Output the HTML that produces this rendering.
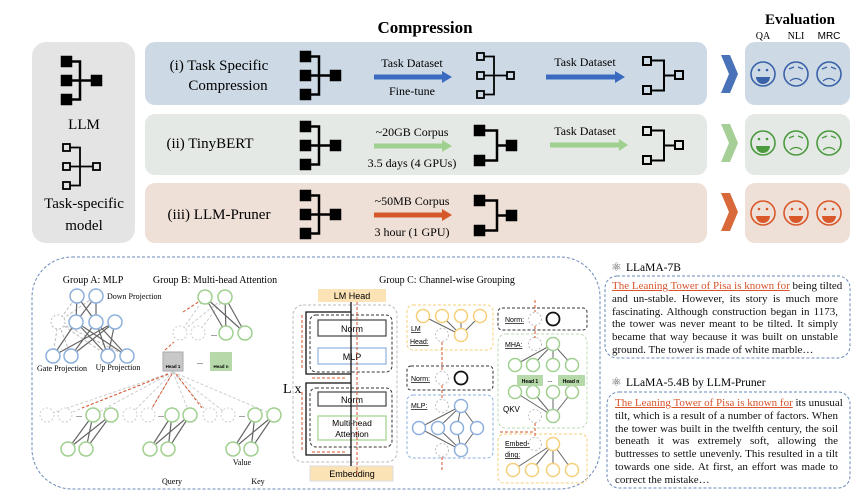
<!DOCTYPE html>
<html><head><meta charset="utf-8"><style>
html,body{margin:0;padding:0;background:#fff;}
#w{position:relative;width:867px;height:499px;overflow:hidden;font-family:"Liberation Serif",serif;}
svg{position:absolute;left:0;top:0;}
.p{position:absolute;font-size:11px;line-height:12.8px;color:#111;}
.p div{text-align:justify;text-align-last:justify;white-space:nowrap;}
.p div.l{text-align-last:left;}
.o{color:#d9532b;text-decoration:underline;}
</style></head><body><div id="w">
<svg width="867" height="499" viewBox="0 0 867 499" font-family="Liberation Serif, serif">
<defs>
<g id="f3" stroke="#000" stroke-width="2.5" fill="none"><rect x="0" y="0" width="9" height="9" fill="#000"/><rect x="0" y="19" width="9" height="9" fill="#000"/><rect x="0" y="38" width="9" height="9" fill="#000"/><path d="M9 4.5H18V42.5H9M9 23.5H30"/><rect x="30" y="19" width="9" height="9" fill="#000"/></g>
<g id="h3" stroke="#000" stroke-width="1.8" fill="none"><rect x="1" y="1" width="7" height="7"/><rect x="1" y="20" width="7" height="7"/><rect x="1" y="39" width="7" height="7"/><path d="M8 4.5H18V42.5H8M8 23.5H31"/><rect x="31" y="20" width="7" height="7"/></g>
<g id="f2" stroke="#000" stroke-width="2.5" fill="none"><rect x="0" y="0" width="9" height="9" fill="#000"/><rect x="0" y="30" width="9" height="9" fill="#000"/><path d="M9 4.5H22V34.5H9M22 19.5H32"/><rect x="32" y="15" width="9" height="9" fill="#000"/></g>
<g id="h2" stroke="#000" stroke-width="2" fill="none"><rect x="1" y="1" width="8" height="8"/><rect x="1" y="30" width="8" height="8"/><path d="M9 4.5H22V34.5H9M22 19.5H33"/><rect x="33" y="15" width="8" height="8"/></g>
<g id="hap" fill="none" stroke-width="1.6"><circle r="12"/></g>
<g id="sad" fill="none" stroke-width="1.6"><circle r="12"/><path d="M-7 -5L-2 -7M7 -5L2 -7M-6 7Q0 2 6 7" stroke-width="1.3"/></g>
</defs>

<text x="425" y="33" font-size="17" font-weight="bold" text-anchor="middle">Compression</text>
<text x="800" y="24" font-size="15" font-weight="bold" text-anchor="middle">Evaluation</text>
<text x="763" y="39" font-size="10" text-anchor="middle">QA</text>
<text x="796" y="39" font-size="10" text-anchor="middle">NLI</text>
<text x="829" y="39" font-size="10" text-anchor="middle" font-family="Liberation Sans, sans-serif">MRC</text>

<rect x="32" y="42" width="103" height="201" rx="14" fill="#e4e4e4"/>
<use href="#f3" x="62" y="57"/>
<text x="84" y="129" font-size="15" text-anchor="middle">LLM</text>
<use href="#h3" x="62" y="143"/>
<text x="84" y="208" font-size="15" text-anchor="middle">Task-specific</text>
<text x="84" y="230" font-size="15" text-anchor="middle">model</text>

<rect x="145" y="42" width="562" height="63" rx="10" fill="#cddae6"/>
<rect x="145" y="114" width="562" height="61" rx="10" fill="#e5e9e5"/>
<rect x="145" y="183" width="562" height="60" rx="10" fill="#efe0d7"/>
<rect x="745" y="42" width="105" height="63" rx="10" fill="#cddae6"/>
<rect x="745" y="114" width="105" height="61" rx="10" fill="#e5e9e5"/>
<rect x="745" y="183" width="105" height="60" rx="10" fill="#efe0d7"/>
<path d="M721 55L730 55L738 74L730 93L721 93L729 74Z" fill="#4a72b8"/>
<path d="M721 124L730 124L738 143L730 162L721 162L729 143Z" fill="#a6cf98"/>
<path d="M721 193L730 193L738 212L730 231L721 231L729 212Z" fill="#d9693a"/>

<text x="219" y="70" font-size="15" text-anchor="middle">(i) Task Specific</text>
<text x="228" y="90" font-size="15" text-anchor="middle">Compression</text>
<use href="#f3" x="301" y="52"/>
<text x="412" y="67" font-size="12" text-anchor="middle">Task Dataset</text>
<path d="M374 77H443" stroke="#3b6bc0" stroke-width="5"/><path d="M442 71L452 77L442 83Z" fill="#3b6bc0"/>
<text x="412" y="95" font-size="12" text-anchor="middle">Fine-tune</text>
<use href="#h3" x="476" y="52"/>
<text x="585" y="66" font-size="12" text-anchor="middle">Task Dataset</text>
<path d="M546 77H616" stroke="#3b6bc0" stroke-width="5"/><path d="M615 71L625 77L615 83Z" fill="#3b6bc0"/>
<use href="#h2" x="642" y="56"/>

<text x="210" y="148" font-size="15" text-anchor="middle">(ii) TinyBERT</text>
<use href="#f3" x="301" y="122"/>
<text x="412" y="136" font-size="12" text-anchor="middle">~20GB Corpus</text>
<path d="M374 146H443" stroke="#9fd08f" stroke-width="5"/><path d="M442 140L452 146L442 152Z" fill="#9fd08f"/>
<text x="412" y="167" font-size="12" text-anchor="middle">3.5 days (4 GPUs)</text>
<use href="#f2" x="475" y="126"/>
<text x="585" y="135" font-size="12" text-anchor="middle">Task Dataset</text>
<path d="M550 145H620" stroke="#9fd08f" stroke-width="5"/><path d="M619 139L628 145L619 151Z" fill="#9fd08f"/>
<use href="#h2" x="642" y="126"/>

<text x="219" y="219" font-size="15" text-anchor="middle">(iii) LLM-Pruner</text>
<use href="#f3" x="301" y="191"/>
<text x="412" y="205" font-size="12" text-anchor="middle">~50MB Corpus</text>
<path d="M374 215H443" stroke="#d4582a" stroke-width="5"/><path d="M442 209L452 215L442 221Z" fill="#d4582a"/>
<text x="412" y="236" font-size="12" text-anchor="middle">3 hour (1 GPU)</text>
<use href="#f2" x="475" y="196"/>

<g stroke="#3a62a8"><use href="#hap" x="763" y="74"/><use href="#sad" x="796" y="74"/><use href="#sad" x="829" y="74"/></g>
<g fill="#3a62a8"><circle cx="759" cy="70" r="1.3"/><circle cx="767" cy="70" r="1.3"/><path d="M756 77A7 7 0 0 0 770 77Z"/></g>
<g stroke="#4a9a3e"><use href="#hap" x="763" y="143"/><use href="#sad" x="796" y="143"/><use href="#sad" x="829" y="143"/></g>
<g fill="#4a9a3e"><circle cx="759" cy="139" r="1.3"/><circle cx="767" cy="139" r="1.3"/><path d="M756 146A7 7 0 0 0 770 146Z"/></g>
<g stroke="#d9582a"><use href="#hap" x="763" y="213"/><use href="#hap" x="796" y="213"/><use href="#hap" x="829" y="213"/></g>
<g fill="#d9582a"><circle cx="759" cy="209" r="1.3"/><circle cx="767" cy="209" r="1.3"/><path d="M756 216A7 7 0 0 0 770 216Z"/><circle cx="792" cy="209" r="1.3"/><circle cx="800" cy="209" r="1.3"/><path d="M789 216A7 7 0 0 0 803 216Z"/><circle cx="825" cy="209" r="1.3"/><circle cx="833" cy="209" r="1.3"/><path d="M822 216A7 7 0 0 0 836 216Z"/></g>

<rect x="32" y="257" width="568" height="232" rx="40" fill="none" stroke="#6a8ab8" stroke-width="1" stroke-dasharray="3,2"/>

<!-- Group A -->
<text x="93" y="283" font-size="10" text-anchor="middle">Group A:  MLP</text>
<text x="107" y="299" font-size="8">Down Projection</text>
<g stroke="#bbb" stroke-width="1" stroke-dasharray="3,2"><path d="M58 322L77 296M58 322L96 296M53 356L58 322M71 356L58 322M108 356L58 322M127 356L58 322"/></g>
<g stroke="#666" stroke-width="1.2"><path d="M77 296L76 322M77 296L96 322M96 296L76 322M96 296L96 322M76 322L53 356M76 322L108 356M96 322L71 356M96 322L127 356M115 322L53 356M115 322L108 356M76 322L127 356M96 322L108 356M115 322L71 356"/></g>
<g fill="#fff" stroke="#8eb0dc" stroke-width="1.5"><circle cx="77" cy="296" r="7"/><circle cx="96" cy="296" r="7"/><circle cx="76" cy="322" r="7"/><circle cx="96" cy="322" r="7"/><circle cx="115" cy="322" r="7"/><circle cx="53" cy="356" r="7"/><circle cx="71" cy="356" r="7"/><circle cx="108" cy="356" r="7"/><circle cx="127" cy="356" r="7"/></g>
<circle cx="58" cy="322" r="7" fill="#fff" stroke="#bbb" stroke-dasharray="2,2"/>
<text x="62" y="371" font-size="8" text-anchor="middle">Gate Projection</text>
<text x="118" y="370" font-size="8" text-anchor="middle">Up Projection</text>

<!-- Group B -->
<text x="215" y="283" font-size="10" text-anchor="middle">Group B: Multi-head Attention</text>
<g stroke="#ccc" stroke-dasharray="3,2"><path d="M180 333L205 297M198 333L225 297M180 333L225 297"/></g>
<g stroke="#666" stroke-width="1.2"><path d="M205 297L226 333M205 297L245 333M225 297L226 333M225 297L245 333"/></g>
<g fill="#fff" stroke="#9fd08f" stroke-width="1.5"><circle cx="205" cy="297" r="7"/><circle cx="225" cy="297" r="7"/><circle cx="226" cy="333" r="7"/><circle cx="245" cy="333" r="7"/></g>
<g fill="#fff" stroke="#ccc" stroke-dasharray="2,2"><circle cx="180" cy="333" r="7"/><circle cx="198" cy="333" r="7"/></g>
<text x="214" y="336" font-size="8" text-anchor="middle">...</text>
<g stroke="#d9532b" stroke-dasharray="3,2" fill="none"><path d="M183 312L200 301M165 350L174 342"/></g>
<rect x="163" y="352" width="20" height="19" fill="#c8c8c8" stroke="#aaa"/>
<text x="173" y="368" font-size="4.5" text-anchor="middle" font-family="Liberation Sans,sans-serif" font-weight="bold">Head 1</text>
<text x="200" y="364" font-size="8" text-anchor="middle">...</text>
<rect x="210" y="352" width="22" height="19" fill="#b5d9a8"/>
<text x="221" y="368" font-size="4.5" text-anchor="middle" font-family="Liberation Sans,sans-serif" font-weight="bold">Head n</text>
<g stroke="#ccc" stroke-dasharray="3,2"><path d="M173 372L47 415M173 372L65 415M173 372L130 415M173 372L148 415M173 372L210 415M173 372L228 415M173 372L93 415M173 372L190 415M173 372L274 415"/></g>
<g stroke="#d9532b" stroke-dasharray="3,2" fill="none"><path d="M168 374L82 408M172 374L152 408M176 374L202 408"/></g>
<g stroke="#666" stroke-width="1.2"><path d="M93 415L68 449M93 415L86 449M111 415L68 449M111 415L86 449M172 415L150 449M172 415L168 449M190 415L150 449M190 415L168 449M255 415L233 449M255 415L251 449M274 415L233 449M274 415L251 449"/></g>
<g fill="#fff" stroke="#ccc" stroke-dasharray="2,2"><circle cx="47" cy="415" r="7"/><circle cx="65" cy="415" r="7"/><circle cx="130" cy="415" r="7"/><circle cx="148" cy="415" r="7"/><circle cx="210" cy="415" r="7"/><circle cx="228" cy="415" r="7"/></g>
<text x="79" y="417" font-size="8" text-anchor="middle">...</text><text x="161" y="417" font-size="8" text-anchor="middle">...</text><text x="242" y="417" font-size="8" text-anchor="middle">...</text>
<g fill="#fff" stroke="#9fd08f" stroke-width="1.5"><circle cx="93" cy="415" r="7"/><circle cx="111" cy="415" r="7"/><circle cx="172" cy="415" r="7"/><circle cx="190" cy="415" r="7"/><circle cx="255" cy="415" r="7"/><circle cx="274" cy="415" r="7"/><circle cx="68" cy="449" r="7"/><circle cx="86" cy="449" r="7"/><circle cx="150" cy="449" r="7"/><circle cx="168" cy="449" r="7"/><circle cx="233" cy="449" r="7"/><circle cx="251" cy="449" r="7"/></g>
<text x="242" y="465" font-size="8" text-anchor="middle">Value</text>
<text x="172" y="484" font-size="8" text-anchor="middle">Query</text>
<text x="258" y="484" font-size="8" text-anchor="middle">Key</text>

<!-- Group C transformer -->
<text x="447" y="283" font-size="10" text-anchor="middle">Group C: Channel-wise Grouping</text>
<rect x="293" y="305" width="104" height="157" rx="10" fill="none" stroke="#bbb" stroke-dasharray="3,2"/>
<rect x="318" y="289" width="68" height="13" fill="#fce3b6"/>
<text x="352" y="299" font-size="9" text-anchor="middle" font-family="Liberation Sans,sans-serif">LM Head</text>
<rect x="310" y="315" width="82" height="57" rx="6" fill="none" stroke="#333" stroke-dasharray="3,2"/>
<rect x="318" y="320" width="68" height="16" fill="#fff" stroke="#444" stroke-width="1.2"/>
<text x="352" y="332" font-size="9" text-anchor="middle" font-family="Liberation Sans,sans-serif">Norm</text>
<rect x="318" y="348" width="68" height="16" fill="#fff" stroke="#8eb0dc" stroke-width="1.2"/>
<text x="352" y="360" font-size="9" text-anchor="middle" font-family="Liberation Sans,sans-serif">MLP</text>
<rect x="310" y="388" width="82" height="59" rx="6" fill="none" stroke="#333" stroke-dasharray="3,2"/>
<rect x="318" y="392" width="68" height="14" fill="#fff" stroke="#444" stroke-width="1.2"/>
<text x="352" y="403" font-size="9" text-anchor="middle" font-family="Liberation Sans,sans-serif">Norm</text>
<rect x="318" y="416" width="68" height="24" fill="#fff" stroke="#9fd08f" stroke-width="1.2"/>
<text x="352" y="426" font-size="8.5" text-anchor="middle" font-family="Liberation Sans,sans-serif">Multi-head</text>
<text x="352" y="437" font-size="8.5" text-anchor="middle" font-family="Liberation Sans,sans-serif">Attention</text>
<rect x="310" y="466" width="83" height="15" fill="#fce3b6" stroke="#ddd"/>
<text x="352" y="477" font-size="9" text-anchor="middle" font-family="Liberation Sans,sans-serif">Embedding</text>
<g stroke="#111" stroke-width="1.3" fill="none"><path d="M351 466V302M351 455H306V383H351M351 374H306V312H351"/></g>
<text x="283" y="393" font-size="14">L x</text>
<g stroke="#d9532b" stroke-dasharray="3,2" fill="none"><path d="M357 302V474M302 315V368M302 392V450M312 378H345M312 452H345"/></g>

<!-- Group C middle -->
<rect x="407" y="305" width="86" height="45" rx="6" fill="none" stroke="#f5cf7a" stroke-dasharray="3,2"/>
<rect x="407" y="366" width="86" height="24" rx="4" fill="none" stroke="#333" stroke-dasharray="3,2"/>
<rect x="407" y="395" width="86" height="63" rx="6" fill="none" stroke="#8eb0dc" stroke-dasharray="3,2"/>
<g stroke="#666" stroke-width="1"><path d="M423 316L461 335M442 316L461 335M461 316L461 335M480 316L461 335M461 406L419 428M461 406L438 428M461 406L457 428M461 406L477 428M419 428L461 450M438 428L461 450M457 428L461 450M477 428L461 450"/></g>
<g fill="#fff" stroke="#f5cf7a" stroke-width="1.5"><circle cx="423" cy="316" r="6.5"/><circle cx="442" cy="316" r="6.5"/><circle cx="461" cy="316" r="6.5"/><circle cx="480" cy="316" r="6.5"/><circle cx="461" cy="335" r="6.5"/></g>
<g fill="#fff" stroke="#8eb0dc" stroke-width="1.5"><circle cx="461" cy="406" r="6.5"/><circle cx="419" cy="428" r="6.5"/><circle cx="438" cy="428" r="6.5"/><circle cx="457" cy="428" r="6.5"/><circle cx="477" cy="428" r="6.5"/><circle cx="461" cy="450" r="6.5"/></g>
<g fill="#fff" stroke="#bbb" stroke-dasharray="2,2"><circle cx="442" cy="335" r="6.5"/><circle cx="442" cy="378" r="6.5"/><circle cx="442" cy="406" r="6.5"/><circle cx="442" cy="450" r="6.5"/></g>
<circle cx="461" cy="378" r="6.5" fill="#fff" stroke="#111" stroke-width="1.8"/>
<g stroke="#d9532b" stroke-dasharray="3,2"><path d="M442 342V371M442 385V399M442 457V470"/></g>
<g font-family="Liberation Sans,sans-serif" font-size="7" text-decoration="underline"><text x="411" y="331">LM</text><text x="410" y="344">Head:</text><text x="411" y="381">Norm:</text><text x="411" y="408">MLP:</text></g>

<!-- Group C right -->
<rect x="498" y="308" width="89" height="22" rx="4" fill="none" stroke="#333" stroke-dasharray="3,2"/>
<rect x="498" y="334" width="89" height="94" rx="8" fill="none" stroke="#b9dcae" stroke-dasharray="3,2"/>
<rect x="498" y="434" width="89" height="49" rx="6" fill="none" stroke="#f5cf7a" stroke-dasharray="3,2"/>
<g stroke="#666" stroke-width="1"><path d="M553 344L515 365M553 344L533 365M553 344L553 365M553 344L572 365M515 392L553 416M533 392L553 416M553 392L553 416M572 392L553 416M553 444L513 470M553 444L532 470M553 444L553 470M553 444L572 470"/></g>
<g fill="#fff" stroke="#9fd08f" stroke-width="1.5"><circle cx="553" cy="344" r="6.5"/><circle cx="515" cy="365" r="6.5"/><circle cx="533" cy="365" r="6.5"/><circle cx="553" cy="365" r="6.5"/><circle cx="572" cy="365" r="6.5"/><circle cx="515" cy="392" r="6.5"/><circle cx="533" cy="392" r="6.5"/><circle cx="553" cy="392" r="6.5"/><circle cx="572" cy="392" r="6.5"/><circle cx="553" cy="416" r="6.5"/></g>
<g fill="#fff" stroke="#f5cf7a" stroke-width="1.5"><circle cx="553" cy="444" r="6.5"/><circle cx="513" cy="470" r="6.5"/><circle cx="532" cy="470" r="6.5"/><circle cx="553" cy="470" r="6.5"/><circle cx="572" cy="470" r="6.5"/></g>
<g fill="#fff" stroke="#bbb" stroke-dasharray="2,2"><circle cx="535" cy="319" r="6.5"/><circle cx="535" cy="344" r="6.5"/><circle cx="535" cy="416" r="6.5"/><circle cx="535" cy="444" r="6.5"/></g>
<circle cx="553" cy="319" r="6.5" fill="#fff" stroke="#111" stroke-width="1.8"/>
<rect x="517" y="375" width="26" height="11" fill="#b5d9a8"/><rect x="558" y="375" width="27" height="11" fill="#b5d9a8"/>
<g font-family="Liberation Sans,sans-serif" font-size="5" font-weight="bold" text-anchor="middle"><text x="530" y="383">Head 1</text><text x="571" y="383">Head n</text></g>
<text x="550" y="382" font-size="7" text-anchor="middle">...</text>
<g stroke="#d9532b" stroke-dasharray="3,2"><path d="M535 300V312M535 326V338M535 423V437M500 432H535"/></g>
<text x="503" y="412" font-size="8" font-family="Liberation Sans,sans-serif">QKV</text>
<g font-family="Liberation Sans,sans-serif" font-size="7" text-decoration="underline"><text x="505" y="322">Norm:</text><text x="505" y="347">MHA:</text><text x="505" y="446">Embed-</text><text x="505" y="457">ding:</text></g>

<!-- right text panels -->
<text x="611" y="271" font-size="12" fill="#555">⚛</text>
<text x="626" y="271" font-size="11.5">LLaMA-7B</text>
<rect x="605" y="276" width="245" height="82" rx="12" fill="none" stroke="#6a8ab8" stroke-dasharray="3,2"/>
<text x="611" y="386" font-size="12" fill="#555">⚛</text>
<text x="626" y="386" font-size="11.5">LLaMA-5.4B by LLM-Pruner</text>
<rect x="607" y="392" width="243" height="96" rx="12" fill="none" stroke="#6a8ab8" stroke-dasharray="3,2"/>
</svg>
<div class="p" style="left:612px;top:280px;width:226px;">
<div><span class="o">The Leaning Tower of Pisa is known for</span> being tilted</div>
<div>and un-stable. However, its story is much more</div>
<div>fascinating. Although construction began in 1173,</div>
<div>the tower was never meant to be tilted. It simply</div>
<div>became that way because it was built on unstable</div>
<div class="l">ground. The tower is made of white marble…</div>
</div>
<div class="p" style="left:615px;top:397px;width:223px;">
<div><span class="o">The Leaning Tower of Pisa is known for</span> its unusual</div>
<div>tilt, which is a result of a number of factors. When</div>
<div>the tower was built in the twelfth century, the soil</div>
<div>beneath it was extremely soft, allowing the</div>
<div>buttresses to settle unevenly. This resulted in a tilt</div>
<div>towards one side. At first, an effort was made to</div>
<div class="l">correct the mistake…</div>
</div>
</div></body></html>
